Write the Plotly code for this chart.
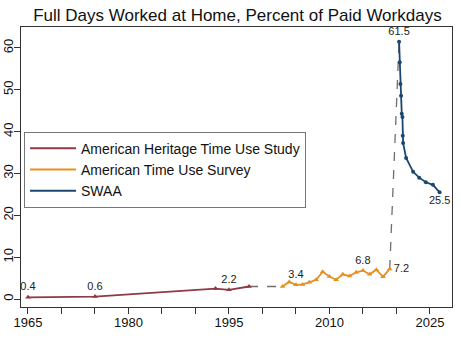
import plotly.graph_objects as go

# AHTUS
ahtus_year = [1965, 1975, 1993, 1995, 1998]
ahtus_val = [0.4, 0.6, 2.5, 2.2, 3.0]
ahtus_lab = [True, True, False, True, False]

# ATUS
atus_year = list(range(2003, 2020))
atus_val = [3.0, 4.1, 3.4, 3.5, 4.0, 4.6, 6.5, 5.4, 4.6, 5.9, 5.5, 6.4, 6.8, 5.9, 7.0, 5.3, 7.2]
atus_lab = [False, False, True] + [False] * 9 + [True, False, False, False, True]

# SWAA
swaa_year = [2020.40, 2020.50, 2020.60, 2020.70, 2020.80, 2020.90, 2020.95, 2021.00,
             2021.45, 2022.50, 2023.40, 2024.40, 2025.45, 2026.45]
swaa_val = [61.5, 56.6, 51.4, 48.6, 44.3, 43.5, 39.0, 37.3, 33.7, 30.4, 29.0, 27.9, 27.3, 25.5]
swaa_lab = [True] + [False] * 12 + [True]

title = "Full Days Worked at Home, Percent of Paid Workdays"
names = ["American Heritage Time Use Study", "American Time Use Survey", "SWAA"]
colors = ["#8f3a44", "#e8901f", "#1a476f"]

xticks = [1965, 1980, 1995, 2010, 2025]
xminor = [1970, 1975, 1985, 1990, 2000, 2005, 2015, 2020]
yticks = [0, 10, 20, 30, 40, 50, 60]

FONT = "Liberation Sans, Arial, sans-serif"

fig = go.Figure()

# dashed connectors
fig.add_trace(go.Scatter(x=[ahtus_year[-1], atus_year[0]], y=[ahtus_val[-1], atus_val[0]],
                         mode="lines", line=dict(color="#6e6e6e", width=1.3, dash="dash"),
                         showlegend=False, hoverinfo="skip"))
fig.add_trace(go.Scatter(x=[atus_year[-1], swaa_year[0]], y=[atus_val[-1], swaa_val[0]],
                         mode="lines", line=dict(color="#6e6e6e", width=1.3, dash="dash"),
                         showlegend=False, hoverinfo="skip"))


def mk_text(vals, labs):
    return [f"{v:.1f}" if l else "" for v, l in zip(vals, labs)]


series = [
    (ahtus_year, ahtus_val, ahtus_lab, "triangle-up", 5),
    (atus_year, atus_val, atus_lab, "triangle-up", 5),
    (swaa_year, swaa_val, swaa_lab, "circle", 4),
]
for i, (xs, ys, labs, sym, ms) in enumerate(series):
    txt = mk_text(ys, labs)
    pos = ["top center"] * len(xs)
    if i == 1:
        pos[-1] = "middle right"
    if i == 2:
        pos[-1] = "bottom center"
    fig.add_trace(go.Scatter(x=xs, y=ys, mode="lines+markers+text", text=txt,
                             textposition=pos,
                             textfont=dict(family=FONT, size=11, color="#222"),
                             line=dict(color=colors[i], width=1.8),
                             marker=dict(color=colors[i], symbol=sym, size=ms),
                             showlegend=False, cliponaxis=False))

for i in range(3):
    fig.add_trace(go.Scatter(x=[None], y=[None], mode="lines", name=names[i],
                             line=dict(color=colors[i], width=2)))

fig.update_layout(
    width=461, height=342,
    margin=dict(l=21, r=9, t=27, b=35, autoexpand=False),
    paper_bgcolor="white", plot_bgcolor="white",
    title=dict(text=title, x=0.515, xanchor="center", y=0.957, yanchor="middle",
               font=dict(family=FONT, size=17, color="#111")),
    font=dict(family=FONT, size=12, color="#111"),
    legend=dict(x=0.007, y=0.626, xanchor="left", yanchor="top",
                bordercolor="#777", borderwidth=1, bgcolor="white",
                font=dict(family=FONT, size=14, color="#111"),
                itemwidth=46, tracegroupgap=0),
    showlegend=True,
)
fig.update_xaxes(range=[1963.96, 2028.3], tickmode="array", tickvals=xticks,
                 ticks="outside", ticklen=6, tickcolor="#333", automargin=False,
                 ticklabelstandoff=-3,
                 showline=True, linecolor="#333", linewidth=1, mirror=True,
                 showgrid=False, zeroline=False,
                 tickfont=dict(family=FONT, size=13, color="#111"),
                 minor=dict(tickvals=xminor, ticks="outside", ticklen=6,
                            tickcolor="#333", showgrid=False))
fig.update_yaxes(range=[-1.9, 65.0], tickmode="array", tickvals=yticks,
                 ticks="outside", ticklen=6, tickcolor="#333", tickangle=-90,
                 automargin=False, ticklabelstandoff=-4,
                 showline=True, linecolor="#333", linewidth=1, mirror=True,
                 showgrid=False, zeroline=False,
                 tickfont=dict(family=FONT, size=13, color="#111"))

fig.write_html("out.html")
